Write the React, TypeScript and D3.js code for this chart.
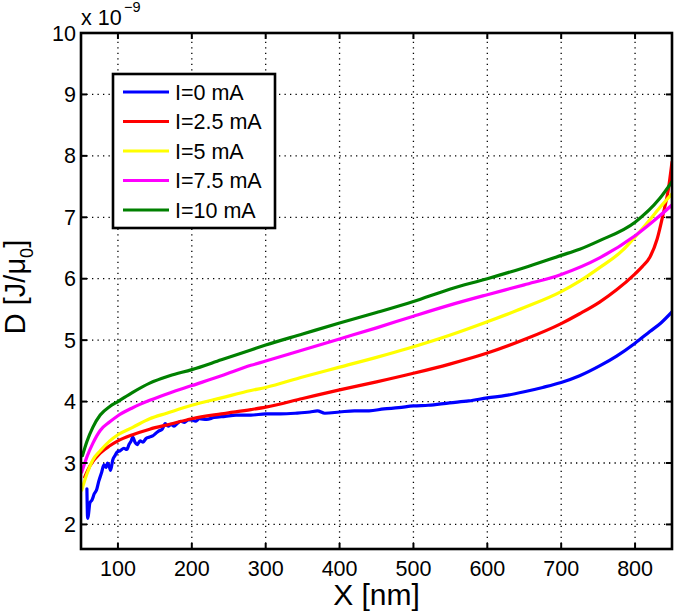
import React from "react";
import * as d3 from "d3";

const xTicks = [100, 200, 300, 400, 500, 600, 700, 800];
const yTicks = [2, 3, 4, 5, 6, 7, 8, 9, 10];

const seriesNames = ["I=0 mA", "I=2.5 mA", "I=5 mA", "I=7.5 mA", "I=10 mA"];
const seriesColors = ["#0000ff", "#ff0000", "#ffff00", "#ff00ff", "#008000"];

const blue: [number, number][] = [
  [58, 2.58], [59, 2.1], [60, 2.15], [62, 2.35], [65, 2.4], [68, 2.5], [71, 2.56], [74, 2.7],
  [78, 2.85], [81, 2.97], [84, 2.93], [86, 3.0], [88, 2.95], [90, 2.88], [93, 3.05], [96, 3.12],
  [99, 3.18], [103, 3.2], [108, 3.24], [112, 3.22], [115, 3.3], [118, 3.36], [120, 3.42], [123, 3.34],
  [126, 3.3], [130, 3.36], [134, 3.34], [138, 3.4], [142, 3.42], [147, 3.44], [151, 3.48], [155, 3.52],
  [160, 3.55], [164, 3.64], [168, 3.6], [172, 3.63], [176, 3.6], [180, 3.64], [185, 3.68], [190, 3.66],
  [195, 3.7], [200, 3.7], [205, 3.68], [210, 3.72], [220, 3.71], [230, 3.74], [245, 3.76], [260, 3.78],
  [280, 3.78], [300, 3.8], [320, 3.8], [340, 3.81], [360, 3.83], [370, 3.85], [380, 3.81], [400, 3.83],
  [420, 3.85], [440, 3.85], [460, 3.88], [480, 3.9], [500, 3.93], [520, 3.94], [549, 3.98], [575, 4.01],
  [600, 4.06], [625, 4.1], [650, 4.16], [675, 4.23], [700, 4.31], [725, 4.42], [752, 4.58], [775, 4.74],
  [800, 4.95], [820, 5.14], [835, 5.28], [850, 5.46],
];

const red: [number, number][] = [
  [55, 2.77], [62, 2.95], [76, 3.16], [89, 3.28], [100, 3.36], [120, 3.46], [143, 3.55], [170, 3.63],
  [200, 3.72], [240, 3.8], [280, 3.87], [300, 3.91], [350, 4.05], [400, 4.19], [450, 4.32], [500, 4.46],
  [549, 4.61], [600, 4.79], [650, 5.01], [700, 5.27], [725, 5.43], [752, 5.62], [775, 5.82], [800, 6.08],
  [810, 6.2], [820, 6.35], [830, 6.65], [838, 7.05], [845, 7.45], [850, 7.9],
];

const yellow: [number, number][] = [
  [51, 2.56], [58, 2.82], [66, 3.05], [76, 3.2], [89, 3.36], [100, 3.46], [120, 3.58], [143, 3.72],
  [166, 3.81], [200, 3.94], [240, 4.06], [280, 4.18], [300, 4.23], [350, 4.4], [400, 4.56], [450, 4.72],
  [491, 4.86], [549, 5.08], [600, 5.3], [650, 5.53], [700, 5.79], [725, 5.96], [752, 6.18], [783, 6.46],
  [800, 6.68], [820, 6.96], [833, 7.15], [850, 7.38],
];

const magenta: [number, number][] = [
  [51, 2.85], [58, 3.1], [66, 3.32], [76, 3.53], [89, 3.67], [100, 3.77], [120, 3.9], [143, 4.02],
  [170, 4.14], [200, 4.26], [240, 4.42], [280, 4.59], [300, 4.66], [350, 4.84], [400, 5.02], [450, 5.2],
  [500, 5.39], [549, 5.57], [600, 5.74], [650, 5.9], [700, 6.07], [752, 6.34], [800, 6.7], [833, 7.02],
  [850, 7.2],
];

const green: [number, number][] = [
  [52, 3.12], [58, 3.35], [66, 3.58], [76, 3.78], [89, 3.92], [100, 4.0], [120, 4.15], [143, 4.3],
  [170, 4.42], [200, 4.52], [240, 4.68], [280, 4.84], [300, 4.92], [350, 5.1], [400, 5.28], [450, 5.45],
  [500, 5.63], [549, 5.83], [600, 6.0], [650, 6.18], [700, 6.38], [725, 6.48], [752, 6.62], [800, 6.92],
  [833, 7.3], [850, 7.58],
];

const allSeries = [blue, red, yellow, magenta, green];

const W = 675;
const H = 611;
const L = 81;
const R = 672;
const T = 33;
const B = 549;
const FONT = "'Liberation Sans', Arial, Helvetica, sans-serif";

export default function App() {
  const x = d3.scaleLinear().domain([50, 850]).range([L, R]);
  const y = d3.scaleLinear().domain([1.6, 10]).range([B, T]);
  const line = d3
    .line<[number, number]>()
    .x((d) => x(d[0]))
    .y((d) => y(d[1]))
    .curve(d3.curveMonotoneX);

  const legX = 113;
  const legY = 74;
  const legW = 162;
  const legStep = 29.5;
  const legFirst = 92;
  const legH = legFirst - legY + legStep * 4 + 18;

  return (
    <svg
      width={W}
      height={H}
      style={{ position: "absolute", left: 0, top: 0, background: "#fff" }}
      fontFamily={FONT}
    >
      <defs>
        <clipPath id="plotclip">
          <rect x={L} y={T} width={R - L} height={B - T} />
        </clipPath>
      </defs>
      <rect x={0} y={0} width={W} height={H} fill="#fff" />
      {/* grid */}
      <g stroke="#000" strokeWidth={1.3} strokeDasharray="1.3,4.2">
        {xTicks.map((t) => (
          <line key={"gx" + t} x1={x(t)} x2={x(t)} y1={B} y2={T} />
        ))}
        {yTicks.filter((t) => t < 10).map((t) => (
          <line key={"gy" + t} x1={L} x2={R} y1={y(t)} y2={y(t)} />
        ))}
      </g>
      {/* series */}
      <g clipPath="url(#plotclip)" fill="none" strokeWidth={3.2} strokeLinejoin="round" strokeLinecap="round">
        {allSeries.map((s, i) => (
          <path key={"s" + i} d={line(s) || ""} stroke={seriesColors[i]} />
        ))}
      </g>
      {/* ticks */}
      <g stroke="#000" strokeWidth={2}>
        {xTicks.map((t) => (
          <g key={"tx" + t}>
            <line x1={x(t)} x2={x(t)} y1={B} y2={B - 6} />
            <line x1={x(t)} x2={x(t)} y1={T} y2={T + 6} />
          </g>
        ))}
        {yTicks.map((t) => (
          <g key={"ty" + t}>
            <line x1={L} x2={L + 6} y1={y(t)} y2={y(t)} />
            <line x1={R} x2={R - 6} y1={y(t)} y2={y(t)} />
          </g>
        ))}
      </g>
      {/* box */}
      <rect x={L} y={T} width={R - L} height={B - T} fill="none" stroke="#000" strokeWidth={2.6} />
      {/* tick labels */}
      <g fontSize={21.5} fill="#000">
        {xTicks.map((t) => (
          <text key={"lx" + t} x={x(t)} y={576} textAnchor="middle">
            {t}
          </text>
        ))}
        {yTicks.map((t) => (
          <text key={"ly" + t} x={76} y={y(t) + 7.5} textAnchor="end">
            {t}
          </text>
        ))}
      </g>
      {/* exponent */}
      <text x={81} y={25} fontSize={21.5} fill="#000">
        x 10
      </text>
      <text x={124} y={12} fontSize={14.5} fill="#000">
        −9
      </text>
      {/* axis titles */}
      <text x={(L + R) / 2} y={605} fontSize={30} textAnchor="middle" fill="#000">
        X [nm]
      </text>
      <text transform={`translate(25, ${(T + B) / 2 - 4}) rotate(-90)`} fontSize={29} textAnchor="middle" fill="#000">
        D [J/μ<tspan fontSize={18} dy={8}>0</tspan>
        <tspan dy={-8}>]</tspan>
      </text>
      {/* legend */}
      <rect x={legX} y={legY} width={legW} height={legH} fill="#fff" stroke="#000" strokeWidth={2.6} />
      {seriesNames.map((n, i) => {
        const cy = legFirst + i * legStep;
        return (
          <g key={"leg" + i}>
            <line x1={123} x2={169} y1={cy} y2={cy} stroke={seriesColors[i]} strokeWidth={3.2} />
            <text x={175} y={cy + 7.8} fontSize={21.5} fill="#000">
              {n}
            </text>
          </g>
        );
      })}
    </svg>
  );
}
